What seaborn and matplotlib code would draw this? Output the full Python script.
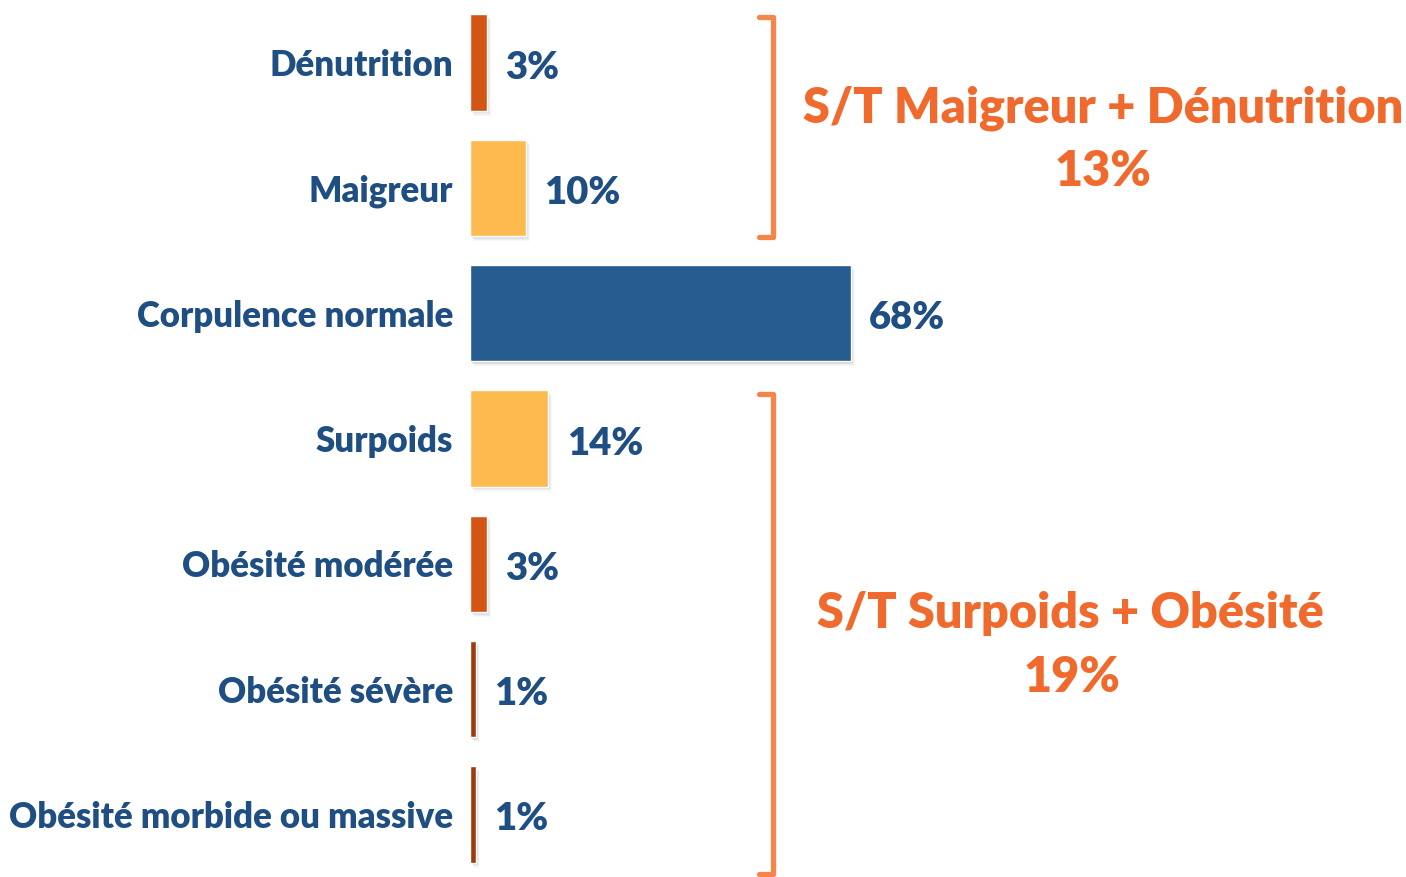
import matplotlib
matplotlib.use("Agg")
import matplotlib.pyplot as plt
import matplotlib.patheffects as pe
import seaborn as sns
import pandas as pd

categories = ["Dénutrition", "Maigreur", "Corpulence normale", "Surpoids",
              "Obésité modérée", "Obésité sévère", "Obésité morbide ou massive"]
values = [3, 10, 68, 14, 3, 1, 1]
value_labels = ["3%", "10%", "68%", "14%", "3%", "1%", "1%"]
bar_colors = ["#D35414", "#FDBB4F", "#265C8F", "#FDBB4F", "#D35414", "#9C3D0B", "#9C3D0B"]
group_titles = ["S/T Maigreur + Dénutrition", "S/T Surpoids + Obésité"]
group_totals = ["13%", "19%"]

sns.set_style("white")
plt.rcParams['font.family'] = ['Lato', 'DejaVu Sans']

df = pd.DataFrame({"cat": categories, "val": values})

fig = plt.figure(figsize=(14.06, 8.77), dpi=100)
ax = fig.add_axes([470 / 1406, 0, 1 - 470 / 1406, 1])

sns.barplot(data=df, x="val", y="cat", hue="cat", palette=bar_colors,
            orient="h", width=0.77, legend=False, ax=ax, saturation=1)

shadows = []
for k, a in [(1, 0.10), (2, 0.08), (3, 0.06), (4, 0.04)]:
    shadows.append(pe.SimplePatchShadow(offset=(k * 0.7, -k * 0.9),
                                        shadow_rgbFace="#555555", alpha=a))
for p in ax.patches:
    p.set_path_effects(shadows + [pe.Normal()])

ax.set_xlim(0, (1406 - 470) / 5.6)
ax.set_ylim(6.5, -0.5)
ax.set_xlabel("")
ax.set_ylabel("")
ax.set_xticks([])
sns.despine(ax=ax, left=True, bottom=True)
ax.tick_params(axis="y", length=0, pad=12)
ax.set_yticks(range(len(categories)))
ax.set_yticklabels(categories, fontsize=25, fontweight="heavy", color="#1F4E82")

for i, (v, lab) in enumerate(zip(values, value_labels)):
    ax.text(v + 3.3, i + 0.04, lab, va="center", ha="left", fontsize=27.5,
            fontweight="heavy", color="#1F4E82")

# brackets (figure pixel coords)
br_color = "#F58549"
def bracket(y0, y1):
    xs = [759, 773, 773, 759]
    ys = [y0, y0, y1, y1]
    fig.add_artist(plt.Line2D([x / 1406 for x in xs], [1 - y / 877 for y in ys],
                              color=br_color, lw=3.8, solid_joinstyle="round",
                              transform=fig.transFigure))
bracket(17, 237)
bracket(394, 874)

orange = "#F06A2E"
fig.text(1103 / 1406, 1 - 108 / 877, group_titles[0], ha="center", va="center",
         fontsize=35, fontweight="heavy", color=orange)
fig.text(1103 / 1406, 1 - 172 / 877, group_totals[0], ha="center", va="center",
         fontsize=35, fontweight="heavy", color=orange)
fig.text(1070 / 1406, 1 - 614 / 877, group_titles[1], ha="center", va="center",
         fontsize=35, fontweight="heavy", color=orange)
fig.text(1072 / 1406, 1 - 678 / 877, group_totals[1], ha="center", va="center",
         fontsize=35, fontweight="heavy", color=orange)

fig.savefig("out.png", dpi=100, facecolor="white")
